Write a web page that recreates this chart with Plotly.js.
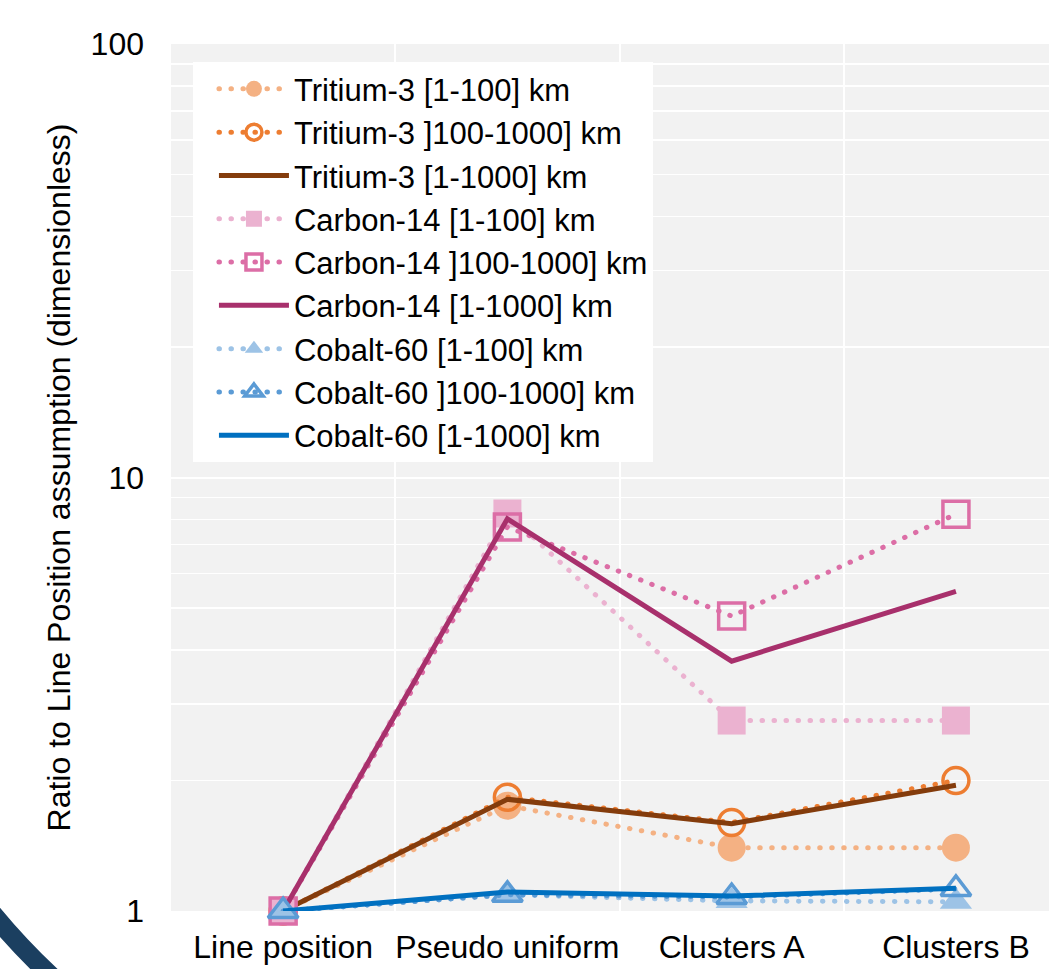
<!DOCTYPE html>
<html>
<head>
<meta charset="utf-8">
<script src="https://cdn.plot.ly/plotly-3.0.1.min.js"></script>
<style>html,body{margin:0;padding:0;background:#fff;}#chart{width:1049px;height:969px;}</style>
</head>
<body>
<div id="chart"></div>
<script>
const categories = ['Line position', 'Pseudo uniform', 'Clusters A', 'Clusters B'];

const seriesNames = [
  'Tritium-3 [1-100] km',
  'Tritium-3 ]100-1000] km',
  'Tritium-3 [1-1000] km',
  'Carbon-14 [1-100] km',
  'Carbon-14 ]100-1000] km',
  'Carbon-14 [1-1000] km',
  'Cobalt-60 [1-100] km',
  'Cobalt-60 ]100-1000] km',
  'Cobalt-60 [1-1000] km'
];

const tritium_1_100     = [1, 1.75, 1.40, 1.40];
const tritium_100_1000  = [1, 1.83, 1.60, 2.00];
const tritium_1_1000    = [1, 1.81, 1.59, 1.95];
const carbon_1_100      = [1, 8.26, 2.75, 2.75];
const carbon_100_1000   = [1, 7.69, 4.79, 8.23];
const carbon_1_1000     = [1, 8.03, 3.77, 5.46];
const cobalt_1_100      = [1, 1.09, 1.055, 1.05];
const cobalt_100_1000   = [1, 1.09, 1.077, 1.124];
const cobalt_1_1000     = [1, 1.106, 1.083, 1.128];

const yTickVals = [1, 10, 100];
const yTickText = ['1', '10', '100'];
const yMinorVals = [2,3,4,5,6,7,8,9,20,30,40,50,60,70,80,90];

const FONT = 'Liberation Sans, Arial, sans-serif';
const DOT = '0.5px,11.5px';

function dotted(name, y, color, symbol, open) {
  return {
    type: 'scatter', mode: 'lines+markers', name: name, x: categories, y: y,
    cliponaxis: false,
    line: {color: color, width: 5, dash: DOT},
    marker: open
      ? {symbol: symbol, size: 26, color: color, line: {color: color, width: 3.5}}
      : {symbol: symbol, size: 28, color: color, line: {width: 0}}
  };
}
function solid(name, y, color) {
  return {
    type: 'scatter', mode: 'lines', name: name, x: categories, y: y,
    cliponaxis: false,
    line: {color: color, width: 5}
  };
}

const data = [
  dotted(seriesNames[0], tritium_1_100, '#f4b183', 'circle', false),
  dotted(seriesNames[1], tritium_100_1000, '#ed7d31', 'circle-open', true),
  solid(seriesNames[2], tritium_1_1000, '#843c0c'),
  dotted(seriesNames[3], carbon_1_100, '#ebb2d0', 'square', false),
  dotted(seriesNames[4], carbon_100_1000, '#dc6ea6', 'square-open', true),
  solid(seriesNames[5], carbon_1_1000, '#a8306c'),
  dotted(seriesNames[6], cobalt_1_100, '#9dc3e6', 'triangle-up', false),
  dotted(seriesNames[7], cobalt_100_1000, '#5b9bd5', 'triangle-up-open', true),
  solid(seriesNames[8], cobalt_1_1000, '#0070c0')
];

const layout = {
  width: 1049, height: 969,
  margin: {l: 171, r: 0, t: 44, b: 58},
  paper_bgcolor: '#ffffff',
  plot_bgcolor: '#f2f2f2',
  font: {family: FONT, size: 32, color: '#000'},
  showlegend: true,
  legend: {
    x: 0.025, y: 0.979, xanchor: 'left', yanchor: 'top',
    bgcolor: '#ffffff', borderwidth: 0,
    font: {family: FONT, size: 31, color: '#000'},
    itemwidth: 70, tracegroupgap: 0, indentation: 21
  },
  xaxis: {
    type: 'category', categoryorder: 'array', categoryarray: categories,
    range: [-0.5, 3.415],
    tickson: 'boundaries', ticks: '', tickangle: 0,
    showgrid: true, gridcolor: '#ffffff', gridwidth: 2,
    showline: false, zeroline: false,
    tickfont: {family: FONT, size: 32, color: '#000'},
    ticklabelstandoff: 14
  },
  yaxis: {
    type: 'log', range: [0, 2],
    tickmode: 'array', tickvals: yTickVals, ticktext: yTickText,
    showgrid: true, gridcolor: '#ffffff', gridwidth: 2,
    minor: {tickmode: 'array', tickvals: yMinorVals, showgrid: true, gridcolor: '#ffffff', gridwidth: 1.5, ticks: ''},
    showline: false, zeroline: false, ticks: '',
    tickfont: {family: FONT, size: 32, color: '#000'},
    ticklabelstandoff: 26,
    title: {text: 'Ratio to Line Position assumption (dimensionless)', font: {family: FONT, size: 32, color: '#000'}, standoff: 10}
  },
  shapes: [{
    type: 'path', xref: 'paper', yref: 'paper', layer: 'above',
    path: 'M -0.2175 0.0150 Q -0.1697 -0.0473 -0.1109 -0.0981',
    line: {color: '#1b3f60', width: 19}
  }]
};

function roundDots() {
  document.querySelectorAll('#chart path.js-line').forEach(function (p) {
    const da = p.style.strokeDasharray;
    if (da && da !== 'none') p.style.strokeLinecap = 'round';
  });
}

Plotly.newPlot('chart', data, layout, {displayModeBar: false, staticPlot: true}).then(roundDots);
</script>
</body>
</html>
